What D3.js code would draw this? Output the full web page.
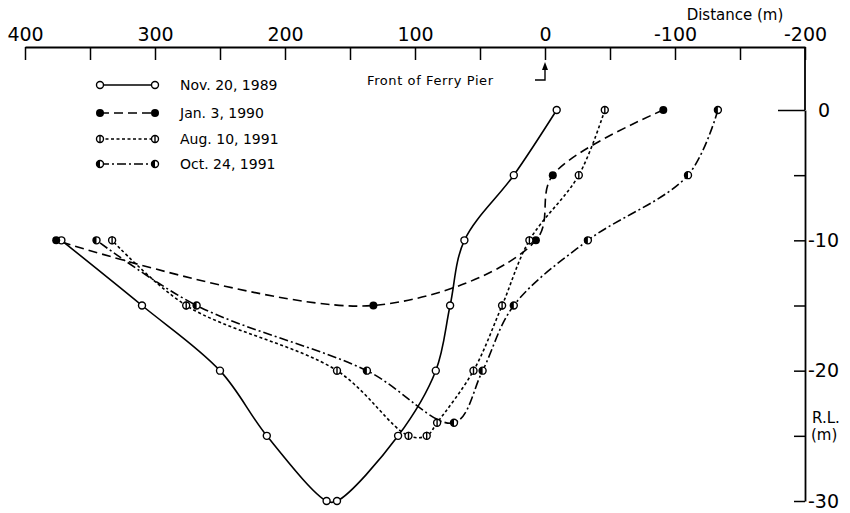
<!DOCTYPE html>
<html>
<head>
<meta charset="utf-8">
<script src="https://cdn.jsdelivr.net/npm/d3@7"></script>
<style>
  html, body { margin: 0; padding: 0; background: #fff; }
  svg { display: block; font-family: "DejaVu Sans", "Noto Sans", sans-serif; }
</style>
</head>
<body>
<svg id="chart" width="850" height="513"></svg>
<script>
// Bed profiles in front of the ferry pier: distance (m) vs reduced level R.L. (m)
const surveyNames = ["Nov. 20, 1989", "Jan. 3, 1990", "Aug. 10, 1991", "Oct. 24, 1991"];

const nov1989Dist = [-9, 24, 62, 73, 84, 113, 160, 168, 214, 250, 310, 372];
const nov1989RL   = [0, -5, -10, -15, -20, -25, -30, -30, -25, -20, -15, -10];

const jan1990Dist = [-91, -6, 7, 132, 376];
const jan1990RL   = [0, -5, -10, -15, -10];

const aug1991Dist = [-46, -26, 12, 33, 55, 83, 91, 105, 160, 276, 333];
const aug1991RL   = [0, -5, -10, -15, -20, -24, -25, -25, -20, -15, -10];

const oct1991Dist = [-133, -110, -33, 24, 48, 70, 137, 268, 345];
const oct1991RL   = [0, -5, -10, -15, -20, -24, -20, -15, -10];

const distTicks = [400, 350, 300, 250, 200, 150, 100, 50, 0, -50, -100, -150, -200];
const distLabels = [400, 300, 200, 100, 0, -100, -200];
const rlTicks = [0, -5, -10, -15, -20, -25, -30];
const rlLabels = [0, -10, -20, -30];

const svg = d3.select("#chart");
const x = d3.scaleLinear().domain([400, -200]).range([25, 805]);
const y = d3.scaleLinear().domain([0, -30]).range([110, 501]);
const axisY = 47;
const axisX = x(-200);

// top distance axis: ticks hang below the line, numbers sit above it
const xAxisG = svg.append("g").attr("transform", `translate(0,${axisY})`)
  .call(d3.axisBottom(x).tickValues(distTicks).tickSize(13).tickSizeOuter(0).tickFormat(""));
xAxisG.select(".domain").attr("stroke-width", 1.8);
xAxisG.selectAll(".tick line").attr("stroke-width", 1.5);

const xLab = svg.append("g").attr("transform", `translate(0,${axisY})`)
  .call(d3.axisTop(x).tickValues(distLabels).tickSize(0).tickPadding(6).tickFormat(d => String(d)));
xLab.select(".domain").remove();
xLab.selectAll("text").attr("font-size", 19).attr("fill", "#000")
  .attr("font-family", "'DejaVu Sans', sans-serif");

svg.append("text").attr("x", 735).attr("y", 20).attr("text-anchor", "middle")
  .attr("font-size", 15).text("Distance (m)");

// right R.L. axis: ticks point inward
svg.append("line").attr("x1", axisX).attr("x2", axisX).attr("y1", axisY).attr("y2", y(0))
  .attr("stroke", "#000").attr("stroke-width", 1.8);
const yAxisG = svg.append("g").attr("transform", `translate(${axisX},0)`)
  .call(d3.axisLeft(y).tickValues(rlTicks).tickSize(11).tickSizeOuter(0).tickFormat(""));
yAxisG.select(".domain").attr("stroke-width", 1.8);
yAxisG.selectAll(".tick line").attr("stroke-width", 1.5)
  .filter(d => d === 0).attr("x2", -27);

const yLab = svg.append("g").attr("transform", `translate(${axisX},0)`)
  .call(d3.axisRight(y).tickValues(rlLabels).tickSize(0).tickPadding(3).tickFormat(d => d === 0 ? "0" : String(d)));
yLab.select(".domain").remove();
yLab.selectAll("text").attr("font-size", 19).attr("fill", "#000")
  .attr("font-family", "'DejaVu Sans', sans-serif")
  .attr("dx", d => d === 0 ? 10 : 0);

svg.append("text").attr("x", 812).attr("y", 423).attr("font-size", 15).text("R.L.");
svg.append("text").attr("x", 811).attr("y", 440).attr("font-size", 15).text("(m)");

// pier front marker
svg.append("text").attr("x", 367).attr("y", 85).attr("font-size", 13)
  .attr("letter-spacing", 0.6).text("Front of Ferry Pier");
svg.append("path")
  .attr("d", `M${x(0) - 10},${80} H${x(0)} V${66}`)
  .attr("fill", "none").attr("stroke", "#000").attr("stroke-width", 1.4);
svg.append("path")
  .attr("d", `M${x(0) - 3},${70} L${x(0)},${62} L${x(0) + 3},${70} Z`)
  .attr("fill", "#000");

// series
const series = [
  { dist: nov1989Dist, rl: nov1989RL, dash: null, marker: "open" },
  { dist: jan1990Dist, rl: jan1990RL, dash: "9,5", marker: "filled" },
  { dist: aug1991Dist, rl: aug1991RL, dash: "3,2.5", marker: "bar" },
  { dist: oct1991Dist, rl: oct1991RL, dash: "9,3,2,3", marker: "half" }
];

const line = d3.line().curve(d3.curveCatmullRom.alpha(0.5));

function drawMarker(g, cx, cy, type) {
  const r = 3.5;
  if (type === "filled") {
    g.append("circle").attr("cx", cx).attr("cy", cy).attr("r", r + 0.5).attr("fill", "#000");
    return;
  }
  g.append("circle").attr("cx", cx).attr("cy", cy).attr("r", r)
    .attr("fill", "#fff").attr("stroke", "#000").attr("stroke-width", 1.4);
  if (type === "bar") {
    g.append("line").attr("x1", cx).attr("x2", cx).attr("y1", cy - r - 0.5).attr("y2", cy + r + 0.5)
      .attr("stroke", "#000").attr("stroke-width", 1.4);
  } else if (type === "half") {
    g.append("path")
      .attr("d", `M${cx},${cy - r} A${r},${r} 0 0,0 ${cx},${cy + r} Z`)
      .attr("fill", "#000");
  }
}

series.forEach(s => {
  const pts = s.dist.map((d, i) => [x(d), y(s.rl[i])]);
  svg.append("path").attr("d", line(pts))
    .attr("fill", "none").attr("stroke", "#000").attr("stroke-width", 1.6)
    .attr("stroke-dasharray", s.dash);
});
series.forEach(s => {
  const g = svg.append("g");
  s.dist.forEach((d, i) => drawMarker(g, x(d), y(s.rl[i]), s.marker));
});

// legend
const legendY = [85, 113, 139, 164];
series.forEach((s, i) => {
  const g = svg.append("g");
  g.append("line").attr("x1", 100).attr("x2", 155).attr("y1", legendY[i]).attr("y2", legendY[i])
    .attr("stroke", "#000").attr("stroke-width", 1.6).attr("stroke-dasharray", s.dash);
  drawMarker(g, 100, legendY[i], s.marker);
  drawMarker(g, 155, legendY[i], s.marker);
  g.append("text").attr("x", 180).attr("y", legendY[i] + 5).attr("font-size", 14).text(surveyNames[i]);
});
</script>
</body>
</html>
